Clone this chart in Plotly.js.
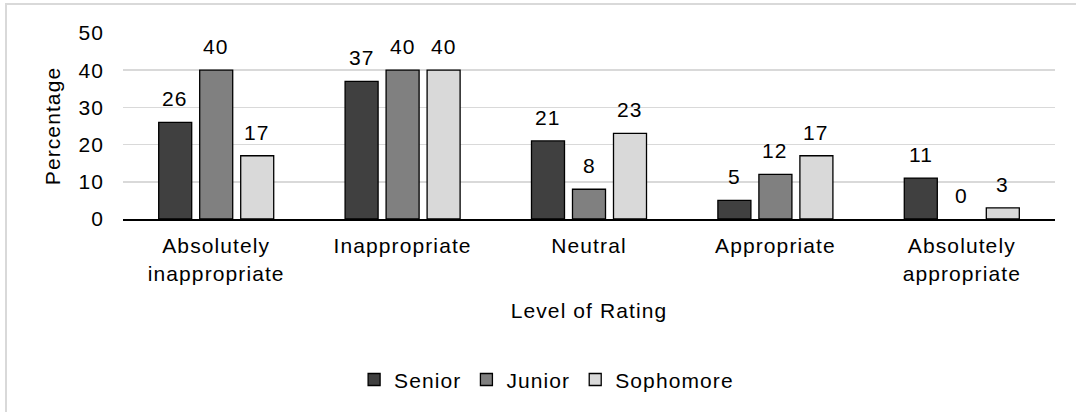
<!DOCTYPE html>
<html>
<head>
<meta charset="utf-8">
<script src="https://cdn.plot.ly/plotly-3.0.1.min.js"></script>
<style>
  html, body { margin: 0; padding: 0; background: #fff; overflow: hidden; }
  #wrap { position: relative; width: 1076px; height: 412px; overflow: hidden; }
  #frame { position: absolute; left: 5px; top: 3px; width: 1200px; height: 600px;
           border: 2px solid #d9d9d9; box-sizing: border-box; pointer-events: none; }
  #chart { position: absolute; left: 0; top: 0; width: 1076px; height: 412px; }
  /* slightly loose tracking for all chart lettering */
  svg text { letter-spacing: 1.1px; }
</style>
</head>
<body>
<div id="wrap">
  <div id="chart"></div>
  <div id="frame"></div>
</div>
<script>
// Rating levels on the x axis
const categories = ["Absolutely<br>inappropriate", "Inappropriate", "Neutral", "Appropriate", "Absolutely<br>appropriate"];

// Percentage of students in each class year choosing each rating
const senior    = [26, 37, 21, 5, 11];
const junior    = [40, 40, 8, 12, 0];
const sophomore = [17, 40, 23, 17, 3];

const seriesNames = ["Senior", "Junior", "Sophomore"];
const seriesFill  = ["#404040", "#808080", "#d9d9d9"];
const seriesData  = [senior, junior, sophomore];

const FONT = "Liberation Sans, Arial, sans-serif";
const FS = 21;

const traces = seriesData.map((vals, i) => ({
  type: "bar",
  name: seriesNames[i],
  x: categories,
  y: vals,
  marker: {
    color: seriesFill[i],
    line: { color: "#000", width: vals.map(v => (v === 0 ? 0 : 1.3)) }
  },
  hoverinfo: "x+y+name"
}));

// Value labels above each bar, shifted sideways to sit over its bar in the group
const slot = 41;
const annotations = [];
seriesData.forEach((vals, i) => {
  vals.forEach((v, j) => {
    annotations.push({
      x: categories[j], y: v, xref: "x", yref: "y",
      text: String(v), showarrow: false,
      yanchor: "bottom", xanchor: "center",
      xshift: (i - 1) * slot, yshift: 10,
      font: { family: FONT, size: FS, color: "#000" }
    });
  });
});

const layout = {
  width: 1076, height: 412,
  margin: { l: 123, r: 21, t: 33, b: 193, pad: 0 },
  paper_bgcolor: "rgba(0,0,0,0)",
  plot_bgcolor: "rgba(0,0,0,0)",
  font: { family: FONT, size: FS, color: "#000" },
  barmode: "group",
  bargap: 0.34,
  bargroupgap: 0.195,
  xaxis: {
    type: "category",
    showline: true, linecolor: "#000", linewidth: 2,
    ticks: "", showgrid: false, zeroline: false,
    ticklabelstandoff: 7,
    tickfont: { family: FONT, size: FS, color: "#000" },
    title: { text: "Level of Rating", font: { family: FONT, size: FS, color: "#000" }, standoff: 20 }
  },
  yaxis: {
    range: [0, 50], dtick: 10, tick0: 0,
    showgrid: true, gridcolor: "#d9d9d9", gridwidth: 1.5,
    zeroline: false, showline: false, ticks: "",
    ticklabelstandoff: 18,
    tickfont: { family: FONT, size: FS, color: "#000" },
    title: { text: "Percentage", font: { family: FONT, size: FS, color: "#000" }, standoff: 12 }
  },
  showlegend: true,
  legend: {
    orientation: "h",
    xref: "container", yref: "container",
    x: 0.508, xanchor: "center",
    y: 0.078, yanchor: "middle",
    font: { family: FONT, size: FS, color: "#000" },
    itemwidth: 30,
    traceorder: "normal"
  },
  annotations: annotations
};

Plotly.newPlot("chart", traces, layout, { displayModeBar: false, staticPlot: true });
</script>
</body>
</html>
